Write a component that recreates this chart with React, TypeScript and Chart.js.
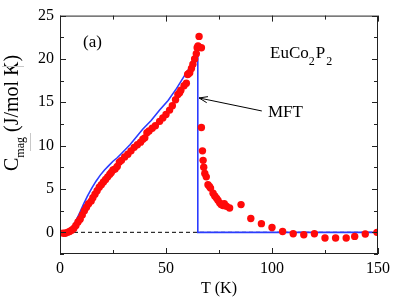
import React, { useEffect, useRef } from "react";
import { Chart, registerables } from "chart.js";

Chart.register(...registerables);

// Measured magnetic heat capacity (red points)
const T_MEAS = [
  1.5, 2.5, 3.5, 4.5, 5.5, 6.5, 7.5, 8.5, 9.5, 10.5, 11.5, 12.5, 13.5, 14.7, 15.5,
  16.5, 17.5, 18.5, 19.5, 20.5, 21.5, 22.5, 23.5, 24.2, 25, 26, 27, 28, 29, 30.5,
  32, 33.5, 35, 36.5, 38, 39.1, 40, 41, 42, 43.5, 45, 47, 48.5, 50, 51.7, 53,
  54.5, 55.6, 56.4, 57, 58.5, 59.6, 60.2, 60.6, 61.2, 62, 62.7, 63.5, 64.3, 64.7,
  65.1, 65.6, 66.7, 66.7, 67.2, 67.5, 67.8, 68.3, 69, 69.8, 70.5, 71, 72.2, 73,
  73.8, 74.5, 75.3, 76, 76.9, 77.5, 78.5, 80, 85.4, 90, 95, 100, 105, 110, 115,
  120, 125, 130, 135, 139, 144, 149.5,
];
const C_MEAS = [
  -0.1, -0.1, 0.0, 0.1, 0.25, 0.45, 0.8, 1.2, 1.5, 2.0, 2.5, 2.9, 3.3, 3.6, 4.0,
  4.4, 4.8, 5.2, 5.5, 5.8, 6.1, 6.4, 6.7, 6.9, 7.2, 7.3, 7.6, 8.1, 8.3, 8.7,
  9.0, 9.4, 9.8, 10.1, 10.4, 10.75, 10.9, 11.5, 11.7, 12.0, 12.3, 12.8, 13.2, 13.6, 14.1, 14.6,
  15.3, 15.9, 16.1, 16.4, 16.9, 17.2, 18.2, 18.3, 18.4, 18.9, 19.4, 20.0, 20.6, 21.3,
  21.5, 22.6, 21.3, 12.1, 9.4, 8.3, 7.5, 6.8, 6.4, 5.5, 5.3, 5.1, 4.5, 4.2,
  3.95, 3.7, 3.4, 3.2, 3.1, 3.3, 3.0, 2.8, 3.2, 1.6, 1.0, 0.55, 0.1, -0.17, -0.28,
  -0.17, -0.66, -0.66, -0.66, -0.47, -0.2, 0.0,
];

// Mean-field theory curve (blue line)
const T_MFT = [0, 3, 5, 7, 9.2, 11, 13, 15, 17, 19, 21, 23, 25, 27, 29, 33, 39, 43, 47, 51, 55, 58.8, 62, 65, 65, 150];
const C_MFT = [0, 0.02, 0.3, 1.1, 2.2, 3.2, 4.2, 5.1, 5.9, 6.6, 7.2, 7.7, 8.2, 8.6, 9.1, 10.1, 11.9, 12.9, 14.1, 15.2, 16.6, 18.1, 19.3, 20.3, 0, 0];

// Zero reference (dashed)
const T_ZERO = [0, 150];
const C_ZERO = [0, 0];

const X_TICKS = [0, 50, 100, 150];
const X_MINOR = [25, 75, 125];
const Y_TICKS = [0, 5, 10, 15, 20, 25];
const Y_MINOR = [-2.5, 2.5, 7.5, 12.5, 17.5, 22.5];

const FONT = "'Liberation Serif', 'DejaVu Serif', serif";

const pts = (xs: number[], ys: number[]) => xs.map((x, i) => ({ x, y: ys[i] }));

const decorPlugin = {
  id: "decor",
  afterDraw(chart: any) {
    const ctx = chart.ctx;
    const { left, right, top, bottom } = chart.chartArea;
    const xs = chart.scales.x;
    const ys = chart.scales.y;
    ctx.save();
    // frame
    ctx.strokeStyle = "#222";
    ctx.lineWidth = 1;
    ctx.strokeRect(left + 0.5, top + 0.5, right - left - 1, bottom - top - 1);
    // inward ticks on all four sides
    ctx.beginPath();
    const tickX = (v: number, len: number) => {
      const px = Math.round(xs.getPixelForValue(v)) + 0.5;
      ctx.moveTo(px, bottom);
      ctx.lineTo(px, bottom - len);
      ctx.moveTo(px, top);
      ctx.lineTo(px, top + len);
    };
    const tickY = (v: number, len: number) => {
      const py = Math.round(ys.getPixelForValue(v)) + 0.5;
      ctx.moveTo(left, py);
      ctx.lineTo(left + len, py);
      ctx.moveTo(right, py);
      ctx.lineTo(right - len, py);
    };
    X_TICKS.forEach((v) => tickX(v, 6));
    X_MINOR.forEach((v) => tickX(v, 4));
    Y_TICKS.forEach((v) => tickY(v, 6));
    Y_MINOR.forEach((v) => tickY(v, 4));
    ctx.stroke();

    // y-axis label with subscript
    ctx.fillStyle = "#000";
    ctx.save();
    ctx.translate(18, 171);
    ctx.rotate(-Math.PI / 2);
    ctx.textBaseline = "alphabetic";
    ctx.textAlign = "left";
    ctx.font = `20px ${FONT}`;
    ctx.fillText("C", 0, 0);
    let w = ctx.measureText("C").width;
    ctx.font = `12px ${FONT}`;
    ctx.fillText("mag", w, 6);
    w += ctx.measureText("mag").width;
    ctx.font = `20px ${FONT}`;
    ctx.fillText(" (J/mol K)", w, 0);
    ctx.restore();

    // faint artifact lines near label
    ctx.strokeStyle = "#c8c8c8";
    ctx.beginPath();
    ctx.moveTo(2, 66.5);
    ctx.lineTo(24, 66.5);
    ctx.moveTo(30.5, 133);
    ctx.lineTo(30.5, 151);
    ctx.stroke();

    // annotations
    ctx.fillStyle = "#000";
    ctx.textAlign = "left";
    ctx.textBaseline = "alphabetic";
    ctx.font = `17px ${FONT}`;
    ctx.fillText("(a)", 83, 47);

    let x = 270;
    const base = 58;
    ctx.font = `17px ${FONT}`;
    ctx.fillText("EuCo", x, base);
    x += ctx.measureText("EuCo").width;
    ctx.font = `12px ${FONT}`;
    ctx.fillText("2", x, base + 7);
    x += ctx.measureText("2").width + 1;
    ctx.font = `17px ${FONT}`;
    ctx.fillText("P", x, base);
    x += ctx.measureText("P").width + 1;
    ctx.font = `12px ${FONT}`;
    ctx.fillText("2", x, base + 7);

    ctx.font = `17px ${FONT}`;
    ctx.fillText("MFT", 268, 117);

    // arrow
    const x1 = xs.getPixelForValue(95.2);
    const y1 = ys.getPixelForValue(14.0);
    const x2 = xs.getPixelForValue(65.6);
    const y2 = ys.getPixelForValue(15.5);
    ctx.strokeStyle = "#000";
    ctx.lineWidth = 1;
    ctx.beginPath();
    ctx.moveTo(x1, y1);
    ctx.lineTo(x2, y2);
    ctx.stroke();
    const ang = Math.atan2(y2 - y1, x2 - x1);
    const hl = 9;
    const hw = 0.35;
    ctx.beginPath();
    ctx.moveTo(x2 - hl * Math.cos(ang - hw), y2 - hl * Math.sin(ang - hw));
    ctx.lineTo(x2, y2);
    ctx.lineTo(x2 - hl * Math.cos(ang + hw), y2 - hl * Math.sin(ang + hw));
    ctx.stroke();
    ctx.restore();
  },
};

export default function App() {
  const ref = useRef<HTMLCanvasElement>(null);
  useEffect(() => {
    if (!ref.current) return;
    Chart.defaults.font.family = FONT;
    const chart = new Chart(ref.current, {
      type: "scatter",
      data: {
        datasets: [
          {
            label: "zero",
            data: pts(T_ZERO, C_ZERO),
            showLine: true,
            borderColor: "#000",
            borderWidth: 1,
            borderDash: [4, 3],
            pointRadius: 0,
            order: 3,
          },
          {
            label: "MFT",
            data: pts(T_MFT, C_MFT),
            showLine: true,
            borderColor: "#2b3cff",
            borderWidth: 1.6,
            pointRadius: 0,
            tension: 0,
            order: 2,
          },
          {
            label: "Cmag",
            data: pts(T_MEAS, C_MEAS),
            backgroundColor: "#ff0a0a",
            borderWidth: 0,
            pointRadius: 3.7,
            order: 1,
          },
        ],
      },
      options: {
        animation: false,
        responsive: false,
        maintainAspectRatio: false,
        layout: { padding: { left: 0, right: 17, top: 11, bottom: 0 } },
        plugins: { legend: { display: false }, tooltip: { enabled: false } },
        scales: {
          x: {
            type: "linear",
            min: 0,
            max: 150,
            grid: { display: false, drawTicks: false },
            border: { display: false },
            afterBuildTicks: (s: any) => {
              s.ticks = X_TICKS.map((v) => ({ value: v }));
            },
            afterFit: (s: any) => {
              s.height = 47;
            },
            ticks: { color: "#000", font: { size: 16, family: FONT }, padding: 5, maxRotation: 0 },
            title: {
              display: true,
              text: "T (K)",
              color: "#000",
              font: { size: 16, family: FONT },
              padding: { top: 0, bottom: 3 },
            },
          },
          y: {
            type: "linear",
            min: -2.5,
            max: 25,
            grid: { display: false, drawTicks: false },
            border: { display: false },
            afterBuildTicks: (s: any) => {
              s.ticks = Y_TICKS.map((v) => ({ value: v }));
            },
            afterFit: (s: any) => {
              s.width = 60;
            },
            ticks: { color: "#000", font: { size: 16, family: FONT }, padding: 6 },
          },
        },
      },
      plugins: [decorPlugin],
    } as any);
    return () => chart.destroy();
  }, []);
  return (
    <div style={{ position: "fixed", left: 0, top: 0, width: 395, height: 301, background: "#fff" }}>
      <canvas ref={ref} width={395} height={301} style={{ display: "block", width: 395, height: 301 }} />
    </div>
  );
}
